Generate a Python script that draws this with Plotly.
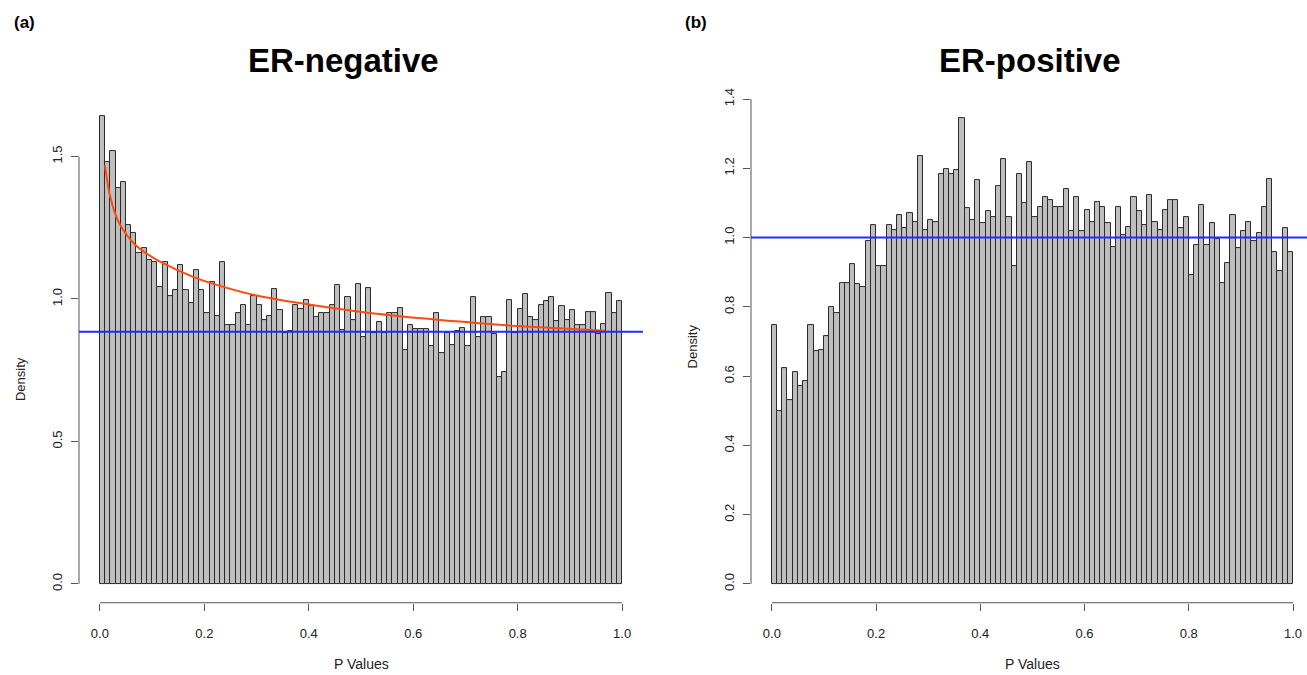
import plotly.graph_objects as go

# ---------------- data ----------------
bin_width = 0.01
bin_centers = [round(0.005 + bin_width * i, 3) for i in range(100)]

er_negative_density = [
    1.64, 1.48, 1.52, 1.39, 1.41, 1.26, 1.23, 1.16, 1.18, 1.135,
    1.13, 1.04, 1.13, 1.01, 1.03, 1.12, 1.03, 0.985, 1.10, 1.03,
    0.95, 1.06, 0.94, 1.13, 0.907, 0.91, 0.95, 0.98, 0.91, 1.01,
    0.98, 0.925, 0.94, 1.035, 0.96, 0.88, 0.887, 0.977, 0.965, 0.995,
    0.976, 0.935, 0.951, 0.951, 0.979, 1.048, 0.89, 1.007, 0.925, 1.052,
    0.865, 1.039, 0.881, 0.919, 0.881, 0.952, 0.949, 0.968, 0.821, 0.909,
    0.895, 0.895, 0.895, 0.833, 0.949, 0.81, 0.88, 0.838, 0.888, 0.897,
    0.833, 1.008, 0.865, 0.936, 0.936, 0.876, 0.726, 0.742, 0.997, 0.88,
    0.964, 1.017, 0.936, 0.925, 0.977, 0.991, 1.006, 0.922, 0.976, 0.925,
    0.961, 0.91, 0.91, 0.953, 0.953, 0.878, 0.912, 1.021, 0.952, 0.993,
]

er_positive_density = [
    0.748, 0.499, 0.622, 0.532, 0.613, 0.570, 0.586, 0.748, 0.672, 0.675,
    0.717, 0.798, 0.783, 0.868, 0.868, 0.924, 0.865, 0.857, 0.991, 1.035,
    0.918, 0.918, 1.035, 1.022, 1.064, 1.028, 1.072, 1.045, 1.234, 1.022,
    1.05, 1.045, 1.182, 1.198, 1.182, 1.195, 1.346, 1.085, 1.05, 1.166,
    1.042, 1.077, 1.058, 1.149, 1.226, 1.058, 0.918, 1.182, 1.101, 1.218,
    1.058, 1.087, 1.117, 1.108, 1.087, 1.087, 1.14, 1.018, 1.117, 1.018,
    1.08, 1.045, 1.102, 1.089, 1.041, 0.972, 1.087, 1.006, 1.029, 1.117,
    1.077, 1.036, 1.123, 1.045, 1.021, 1.08, 1.108, 1.108, 1.028, 1.058,
    0.892, 0.977, 1.094, 0.977, 1.041, 0.997, 0.868, 0.927, 1.064, 0.969,
    1.018, 1.044, 0.99, 1.012, 1.087, 1.169, 0.959, 0.904, 1.027, 0.958,
]

# fitted curve
curve_p = [0.0096, 0.019, 0.029, 0.038, 0.067, 0.089, 0.118, 0.182, 0.245,
           0.30, 0.367, 0.49, 0.616, 0.745, 0.815, 0.968]
curve_density = [1.469, 1.365, 1.30, 1.262, 1.191, 1.160, 1.128, 1.075, 1.038,
                 1.012, 0.99, 0.957, 0.932, 0.912, 0.903, 0.888]

neg_null_level = 0.885
pos_null_level = 1.0

x_tick_vals = [0, 0.2, 0.4, 0.6, 0.8, 1.0]
x_tick_text = ["0.0", "0.2", "0.4", "0.6", "0.8", "1.0"]
neg_y_tick_vals = [0, 0.5, 1.0, 1.5]
neg_y_tick_text = ["0.0", "0.5", "1.0", "1.5"]
pos_y_tick_vals = [0, 0.2, 0.4, 0.6, 0.8, 1.0, 1.2, 1.4]
pos_y_tick_text = ["0.0", "0.2", "0.4", "0.6", "0.8", "1.0", "1.2", "1.4"]

# ---------------- figure ----------------
W, H = 1307, 675
FONT = "Liberation Sans, Arial, Helvetica, sans-serif"
TXT = "#222222"
AXC = "#555555"

def px_x(p):  # screen pixel -> paper fraction
    return p / W

def px_y(p):
    return (H - p) / H

fig = go.Figure()

bar_style = dict(marker=dict(color="#BEBEBE", line=dict(color="#2b2b2b", width=1)),
                 width=bin_width, hoverinfo="x+y", showlegend=False)

fig.add_trace(go.Bar(x=bin_centers, y=er_negative_density, xaxis="x", yaxis="y", **bar_style))
fig.add_trace(go.Scatter(x=curve_p, y=curve_density, mode="lines", xaxis="x", yaxis="y",
                         line=dict(color="#FF4A10", width=2, shape="spline", smoothing=1.0),
                         showlegend=False))
fig.add_trace(go.Bar(x=bin_centers, y=er_positive_density, xaxis="x2", yaxis="y2", **bar_style))

y_dom = [px_y(602), px_y(89)]

common_x = dict(showgrid=False, zeroline=False, showline=False, ticks="outside",
                ticklen=7, tickwidth=1, tickcolor=AXC, tickvals=x_tick_vals,
                ticktext=x_tick_text, tickfont=dict(family=FONT, size=13, color=TXT),
                ticklabelstandoff=12, ticklabeloverflow="allow")
common_y = dict(showgrid=False, zeroline=False, showline=False, ticks="outside",
                ticklen=7, tickwidth=1, tickcolor=AXC, tickangle=-90,
                tickfont=dict(family=FONT, size=13, color=TXT), ticklabelstandoff=4)

fig.update_layout(
    width=W, height=H,
    margin=dict(l=0, r=0, t=0, b=0),
    paper_bgcolor="white", plot_bgcolor="white",
    bargap=0, barmode="overlay",
    xaxis=dict(domain=[px_x(79), px_x(643)], range=[-0.04, 1.04], anchor="y", **common_x),
    yaxis=dict(domain=y_dom, range=[(583 - 602) / 288, (583 - 89) / 288], anchor="x",
               tickvals=neg_y_tick_vals, ticktext=neg_y_tick_text, **common_y),
    xaxis2=dict(domain=[px_x(751), 1.0], range=[-0.04, (W - 772) / 521], anchor="y2", **common_x),
    yaxis2=dict(domain=y_dom, range=[(583 - 602) / 350, (583 - 89) / 350], anchor="x2",
                tickvals=pos_y_tick_vals, ticktext=pos_y_tick_text, **common_y),
)

shapes = []
# R-style axis lines spanning first to last tick
shapes.append(dict(type="line", xref="x", yref="y domain", x0=0, x1=1, y0=0, y1=0,
                   line=dict(color=AXC, width=1)))
shapes.append(dict(type="line", xref="x domain", yref="y", x0=0, x1=0, y0=0, y1=1.5,
                   line=dict(color=AXC, width=1)))
shapes.append(dict(type="line", xref="x2", yref="y2 domain", x0=0, x1=1, y0=0, y1=0,
                   line=dict(color=AXC, width=1)))
shapes.append(dict(type="line", xref="x2 domain", yref="y2", x0=0, x1=0, y0=0, y1=1.4,
                   line=dict(color=AXC, width=1)))
# null levels
shapes.append(dict(type="line", xref="x domain", yref="y", x0=0, x1=1,
                   y0=neg_null_level, y1=neg_null_level, line=dict(color="#1F2BFF", width=2)))
shapes.append(dict(type="line", xref="x2 domain", yref="y2", x0=0, x1=1,
                   y0=pos_null_level, y1=pos_null_level, line=dict(color="#1F2BFF", width=2)))
fig.update_layout(shapes=shapes)

ann = []
def add_text(text, x, y, size, bold=False, angle=0):
    ann.append(dict(text=f"<b>{text}</b>" if bold else text, x=px_x(x), y=px_y(y),
                    xref="paper", yref="paper", showarrow=False, textangle=angle,
                    xanchor="center", yanchor="middle",
                    font=dict(family=FONT, size=size, color="#000000" if bold else TXT)))

add_text("(a)", 24, 16, 17, bold=True)
add_text("(b)", 696, 16, 17, bold=True)
add_text("ER-negative", 343, 54, 33, bold=True)
add_text("ER-positive", 1030, 54, 33, bold=True)
add_text("Density", 20, 376, 13, angle=-90)
add_text("Density", 692, 343, 13, angle=-90)
add_text("P Values", 361, 664, 14)
add_text("P Values", 1032, 664, 14)
fig.update_layout(annotations=ann)

fig.write_html("out.html",
               config={"displayModeBar": False},
               post_script="document.body.style.margin='0px';document.body.style.overflow='hidden';")
